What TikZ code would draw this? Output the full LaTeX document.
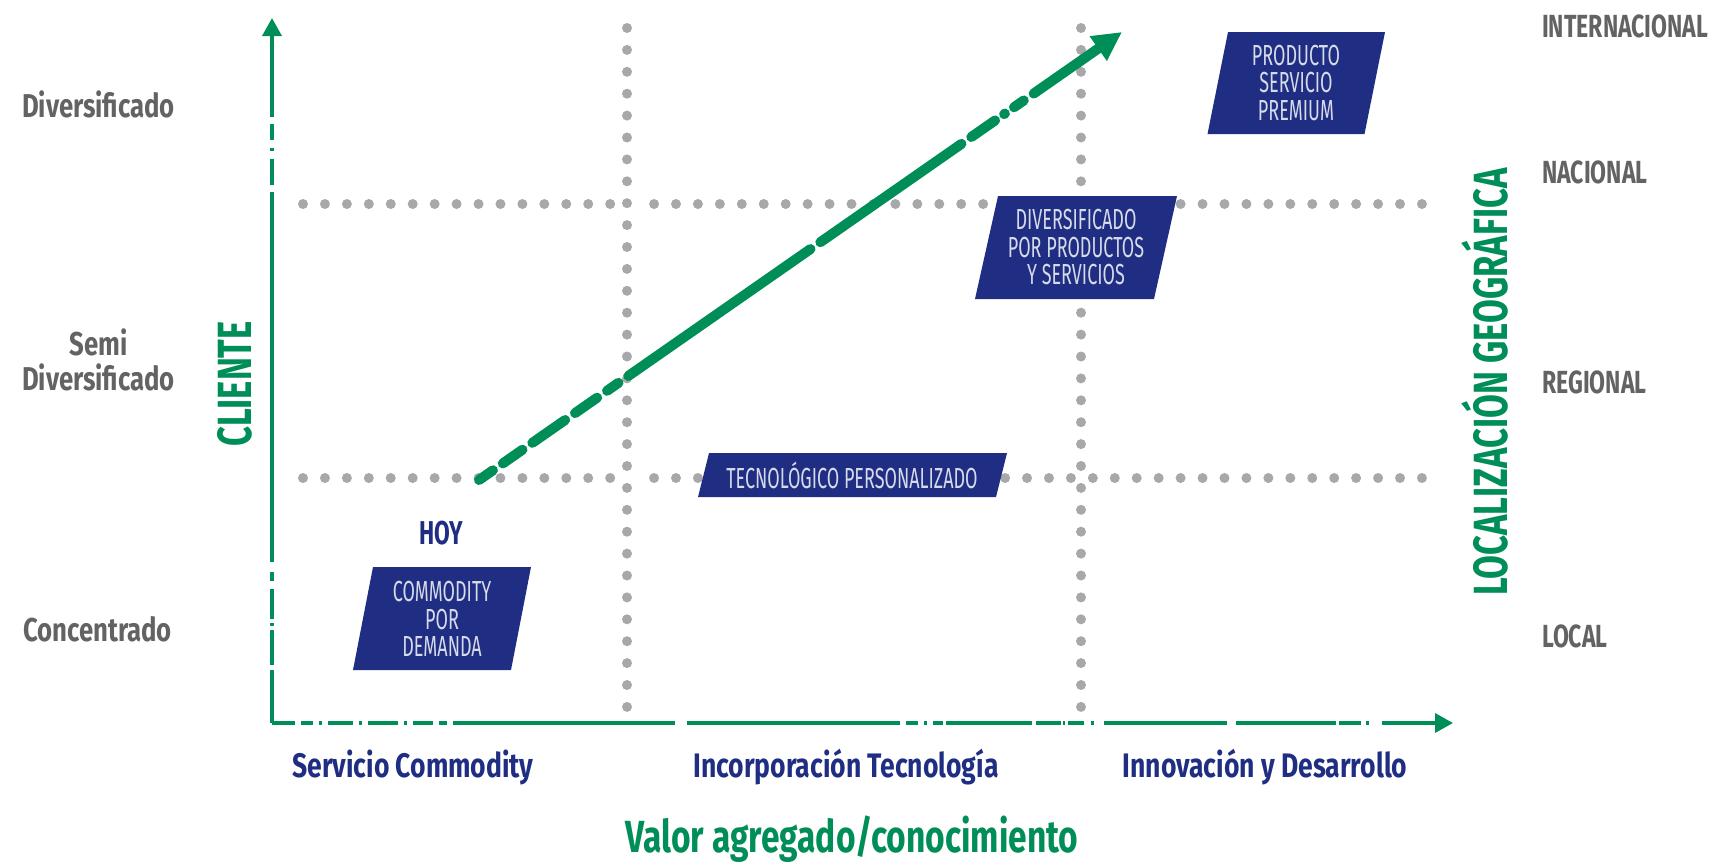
\documentclass[tikz,border=0pt]{standalone}
\usepackage{fontspec}
\newfontfamily\mixb{Fira Sans}[FakeStretch=0.78]
\newfontfamily\titleb{Fira Sans}[FakeStretch=0.745]
\newfontfamily\capsb{Fira Sans}[FakeStretch=0.69]
\newfontfamily\capsw{Fira Sans}[FakeStretch=0.72]
\newfontfamily\capsr{Fira Sans}[FakeStretch=0.62]
\usetikzlibrary{arrows.meta}
\definecolor{cgreen}{RGB}{0,142,88}
\definecolor{cnavy}{RGB}{31,46,130}
\definecolor{cgray}{RGB}{99,99,99}
\definecolor{cdot}{RGB}{168,168,170}
\definecolor{cboxtxt}{RGB}{214,218,234}
\newcommand\plgram[5]{\fill[boxfill] ({#1-#3+#5},{#2-#4}) -- ({#1+#3+#5},{#2-#4}) -- ({#1+#3-#5},{#2+#4}) -- ({#1-#3-#5},{#2+#4}) -- cycle;}
\begin{document}
\begin{tikzpicture}[x=1pt,y=-1pt,
  graylbl/.style={text=cgray, font=\mixb\bfseries\fontsize{33}{35}\selectfont, inner sep=0pt, align=center},
  rightlbl/.style={text=cgray, font=\capsw\bfseries\fontsize{32}{34}\selectfont, inner sep=0pt, anchor=base west},
  catlbl/.style={text=cnavy, font=\mixb\bfseries\fontsize{34}{36}\selectfont, inner sep=0pt, anchor=base},
  hoylbl/.style={text=cnavy, font=\capsb\bfseries\fontsize{33}{35}\selectfont, inner sep=0pt, anchor=base},
  axtitle/.style={text=cgreen, font=\titleb\bfseries\fontsize{45}{47}\selectfont, inner sep=0pt, anchor=base},
  vtitle/.style={text=cgreen, font=\capsw\bfseries\fontsize{48}{50}\selectfont, inner sep=0pt, anchor=base, rotate=90},
  boxtxt/.style={text=cboxtxt, font=\capsr\fontsize{29}{27.5}\selectfont, inner sep=0pt, align=center},
  boxfill/.style={fill=cnavy},
  dotg/.style={fill=cdot},
  axisln/.style={draw=cgreen, line width=3.5pt, line cap=butt},
  trend/.style={draw=cgreen, line width=10pt, line cap=round,
    dash pattern=on 17pt off 12pt on 24pt off 12pt on 40pt off 12pt on 27pt off 12pt on 14pt off 12pt on 222pt off 12pt on 172pt off 12pt on 29pt off 11pt on 1pt off 11pt on 12pt off 12pt on 300pt,
    -{Triangle[length=29pt,width=28pt]}}
]
\useasboundingbox (0,0) rectangle (1713,863);

% dotted grid
\foreach \i in {0,...,31} {
  \fill[dotg] (627,{28+\i*21.9}) circle[radius=5pt];
  \fill[dotg] (1081,{28+\i*21.9}) circle[radius=5pt];
}
\foreach \i in {0,...,51} {
  \ifnum\i=15\else
    \fill[dotg] ({303+\i*21.94},204) circle[radius=5pt];
    \fill[dotg] ({303+\i*21.94},478) circle[radius=5pt];
  \fi
}

% axes
\coordinate (O) at (272,723);
\coordinate (ytip) at (272,18);
\coordinate (xtip) at (1453,723);
\draw[axisln, {Triangle[length=18pt,width=19pt]}-,
  dash pattern=on 82pt off 7pt on 16pt off 8pt on 3pt off 8pt on 26pt off 7pt on 370pt off 10pt on 9pt off 8pt on 30pt off 4pt on 3pt off 4pt on 35pt off 5pt on 300pt]
  (ytip) -- (O);
\draw[axisln, -{Triangle[length=18pt,width=19pt]},
  dash pattern=on 23pt off 6pt on 12pt off 6pt on 3pt off 6pt on 25pt off 6pt on 3pt off 6pt on 30pt off 6pt on 3pt off 6pt on 20pt off 6pt on 8pt off 6pt on 222pt off 12pt on 213pt off 6pt on 12pt off 6pt on 3pt off 6pt on 10pt off 3pt on 86pt off 4pt on 25pt off 2pt on 2pt off 3pt on 16pt off 7pt on 3pt off 10pt on 123pt off 9pt on 100pt off 3pt on 22pt off 5pt on 3pt off 13pt on 80pt]
  (O) -- (xtip);

% trend arrow
\coordinate (hoystart) at (479,480);
\coordinate (trendtip) at (1122,32);
\draw[trend] (hoystart) -- (trendtip);

% boxes
\plgram{442}{618.5}{79}{51.5}{10}
\plgram{1296.25}{83}{78.5}{51}{10.25}
\plgram{1076}{247.5}{89.5}{51.5}{11.5}
\plgram{852.5}{475}{149}{22}{5.5}
\node[boxtxt] (commodity) at (442,619) {COMMODITY\\POR\\DEMANDA};
\node[boxtxt] (premium) at (1296,83) {PRODUCTO\\SERVICIO\\PREMIUM};
\node[boxtxt] (diversif) at (1076,247.5) {DIVERSIFICADO\\POR PRODUCTOS\\Y SERVICIOS};
\node[boxtxt, anchor=base] (tecno) at (852,488) {TECNOLÓGICO PERSONALIZADO};

% labels
\node[hoylbl] (hoy) at (441,544) {HOY};
\node[graylbl, anchor=base] (ldiv) at (98.5,117) {Diversificado};
\node[graylbl] (lsemi) at (98.5,359.5) {Semi\\Diversificado};
\node[graylbl, anchor=base] (lconc) at (97.5,641) {Concentrado};

\node[rightlbl] (rint) at (1542,37) {INTERNACIONAL};
\node[rightlbl] (rnac) at (1542,183) {NACIONAL};
\node[rightlbl] (rreg) at (1542,393) {REGIONAL};
\node[rightlbl] (rloc) at (1542,647) {LOCAL};

\node[catlbl] (c1) at (413,777) {Servicio Commodity};
\node[catlbl] (c2) at (846,777) {Incorporación Tecnología};
\node[catlbl] (c3) at (1265,777) {Innovación y Desarrollo};
\node[axtitle] (xtitle) at (852,852) {Valor agregado/conocimiento};

\node[vtitle] (ytitle) at (251,384) {CLIENTE};
\node[vtitle] (geotitle) at (1507,382) {LOCALIZACIÓN GEOGRÁFICA};
\end{tikzpicture}
\end{document}
